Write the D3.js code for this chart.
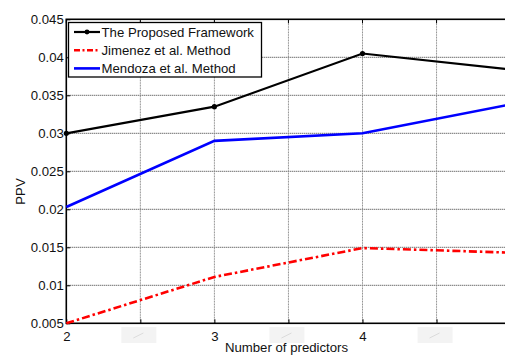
<!DOCTYPE html>
<html>
<head>
<meta charset="utf-8">
<script src="https://cdn.jsdelivr.net/npm/d3@7"></script>
<style>
  html, body { margin: 0; padding: 0; background: #fff; }
  svg { display: block; font-family: "Liberation Sans", Arial, sans-serif; }
</style>
</head>
<body>
<svg id="chart" width="505" height="356"></svg>
<script>
// Number of predictors on the x axis
const predictors = [2, 3, 4, 5];

// PPV for each method
const proposed = [0.0300, 0.0335, 0.0405, 0.0384];
const jimenez  = [0.0050, 0.0111, 0.0149, 0.0143];
const mendoza  = [0.0203, 0.0290, 0.0300, 0.0338];

const seriesNames = ["The Proposed Framework", "Jimenez et al. Method", "Mendoza et al. Method"];

const xTicks = [2, 2.5, 3, 3.5, 4, 4.5, 5];
const xTickLabels = ["2", "", "3", "", "4", "", ""];
const yTicks = [0.005, 0.01, 0.015, 0.02, 0.025, 0.03, 0.035, 0.04, 0.045];
const yTickLabels = ["0.005", "0.01", "0.015", "0.02", "0.025", "0.03", "0.035", "0.04", "0.045"];

const svg = d3.select("#chart");
const plotL = 66.3, plotR = 510.6, plotT = 19.3, plotB = 323.3;

const x = d3.scaleLinear().domain([2, 5]).range([plotL, plotR]);
const y = d3.scaleLinear().domain([0.005, 0.045]).range([plotB, plotT]);

// faint patches under the half-step ticks
[2.5, 3.5, 4.5].forEach(v => {
  const cx = x(v) - 2;
  svg.append("rect").attr("x", cx - 17).attr("y", 327).attr("width", 35).attr("height", 16)
    .attr("fill", "#f3f3f3");
  svg.append("line").attr("x1", cx - 5).attr("y1", 338).attr("x2", cx + 5).attr("y2", 333)
    .attr("stroke", "#d4d4d4").attr("stroke-width", 0.8);
});

// grid
const grid = svg.append("g");
grid.selectAll("line.h").data(yTicks.slice(1, -1)).join("line")
  .attr("x1", plotL).attr("x2", 505)
  .attr("y1", d => y(d)).attr("y2", d => y(d))
  .attr("stroke", "#333").attr("stroke-width", 1).attr("stroke-dasharray", "1,1");
grid.selectAll("line.v").data(xTicks.slice(1, -1)).join("line")
  .attr("y1", plotT).attr("y2", plotB)
  .attr("x1", d => x(d)).attr("x2", d => x(d))
  .attr("stroke", "#888").attr("stroke-width", 1).attr("stroke-dasharray", "1,0.6");

// axes with inward ticks
const xAxis = d3.axisBottom(x).tickValues(xTicks).tickSize(-4)
  .tickFormat((d, i) => xTickLabels[i]).tickPadding(8);
const gx = svg.append("g").attr("transform", `translate(0,${plotB})`).call(xAxis);
const yAxis = d3.axisLeft(y).tickValues(yTicks).tickSize(-4)
  .tickFormat((d, i) => yTickLabels[i]).tickPadding(7);
const gy = svg.append("g").attr("transform", `translate(${plotL},0)`).call(yAxis);
[gx, gy].forEach(g => {
  g.select(".domain").remove();
  g.selectAll(".tick line").attr("stroke", "#000").attr("stroke-width", 1);
  g.selectAll("text").attr("font-size", 13.2).attr("fill", "#111")
    .attr("font-family", "'Liberation Sans', Arial, sans-serif");
});
gy.selectAll(".tick text").attr("x", -2.5);
// right-side ticks
svg.append("g").selectAll("line").data(yTicks).join("line")
  .attr("x1", plotR - 4).attr("x2", plotR).attr("y1", d => y(d)).attr("y2", d => y(d))
  .attr("stroke", "#000");
// top ticks
svg.append("g").selectAll("line").data(xTicks).join("line")
  .attr("x1", d => x(d)).attr("x2", d => x(d)).attr("y1", plotT).attr("y2", plotT + 4)
  .attr("stroke", "#000");

// frame
svg.append("rect").attr("x", plotL).attr("y", plotT).attr("width", plotR - plotL).attr("height", plotB - plotT)
  .attr("fill", "none").attr("stroke", "#000").attr("stroke-width", 1.6);

// series
const line = d3.line().x((d, i) => x(predictors[i])).y(d => y(d));
svg.append("path").datum(mendoza).attr("d", line)
  .attr("fill", "none").attr("stroke", "#0000ff").attr("stroke-width", 2.6);
svg.append("path").datum(jimenez).attr("d", line)
  .attr("fill", "none").attr("stroke", "#ff0000").attr("stroke-width", 2.6)
  .attr("stroke-dasharray", "8,3,2.5,3");
svg.append("path").datum(proposed).attr("d", line)
  .attr("fill", "none").attr("stroke", "#000").attr("stroke-width", 2.2);
svg.append("g").selectAll("circle").data(proposed).join("circle")
  .attr("cx", (d, i) => x(predictors[i])).attr("cy", d => y(d)).attr("r", 2.6).attr("fill", "#000");

// legend
const lg = svg.append("g");
lg.append("rect").attr("x", 68.5).attr("y", 22.5).attr("width", 193).attr("height", 54.5)
  .attr("fill", "#fff").attr("stroke", "#000").attr("stroke-width", 1.3);
const legendStyles = [
  { color: "#000", dash: null, w: 2.2, marker: true },
  { color: "#ff0000", dash: "6,2.5,2,2.5", w: 2.6, marker: false },
  { color: "#0000ff", dash: null, w: 2.6, marker: false }
];
seriesNames.forEach((name, i) => {
  const yy = 32 + i * 18.2;
  const s = legendStyles[i];
  const l = lg.append("line").attr("x1", 74).attr("x2", 100).attr("y1", yy).attr("y2", yy)
    .attr("stroke", s.color).attr("stroke-width", s.w);
  if (s.dash) l.attr("stroke-dasharray", s.dash);
  if (s.marker) lg.append("circle").attr("cx", 87).attr("cy", yy).attr("r", 2.4).attr("fill", "#000");
  lg.append("text").attr("x", 101.5).attr("y", yy + 4.6).attr("font-size", 13.2).attr("fill", "#111")
    .text(name);
});

// axis titles
svg.append("text").attr("x", 286.5).attr("y", 352).attr("text-anchor", "middle")
  .attr("font-size", 13.2).attr("fill", "#111").text("Number of predictors");
svg.append("text").attr("transform", "translate(24.5,191.5) rotate(-90)").attr("text-anchor", "middle")
  .attr("font-size", 13.2).attr("fill", "#111").text("PPV");
</script>
</body>
</html>
